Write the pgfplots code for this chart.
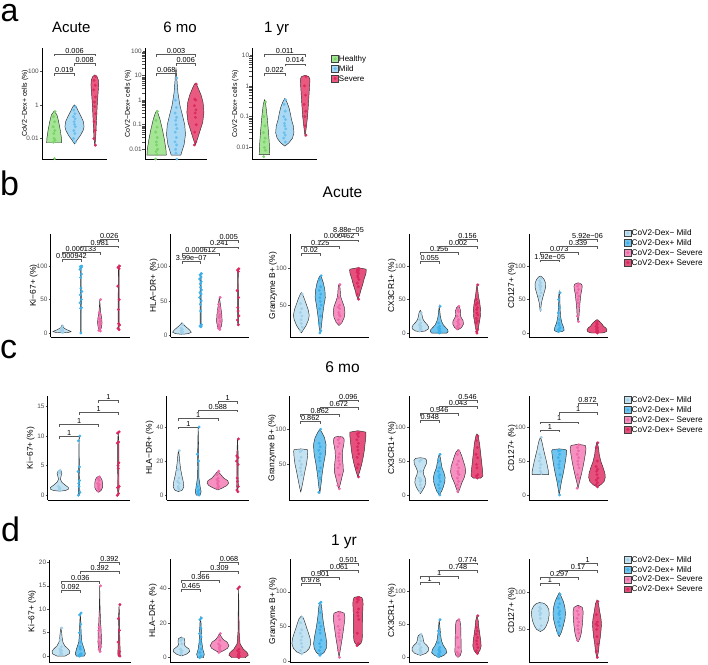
\documentclass[border=0pt]{standalone}
\usepackage{pgfplots}
\pgfplotsset{compat=1.18}
\usepackage{fontspec}
\setmainfont{Liberation Sans}

\definecolor{hF}{HTML}{A4E696}\definecolor{hD}{HTML}{7CD36A}
\definecolor{mF}{HTML}{A9D9F4}\definecolor{mD}{HTML}{6CC0EE}
\definecolor{sF}{HTML}{EA5A80}\definecolor{sD}{HTML}{DC2C5E}
\definecolor{cAF}{HTML}{C4E3F2}\definecolor{cAD}{HTML}{A2D0E8}
\definecolor{cBF}{HTML}{6FC5EF}\definecolor{cBD}{HTML}{3DB1EC}
\definecolor{cCF}{HTML}{F590C0}\definecolor{cCD}{HTML}{EF6AAA}
\definecolor{cDF}{HTML}{E6507C}\definecolor{cDD}{HTML}{DA2860}
\definecolor{tickgray}{HTML}{4D4D4D}

% violin outline from a profile y/halfwidth (bottom to top)
\newcommand\vio[3]{%
  \gdef\vR{}\gdef\vL{}\gdef\vF{}%
  \foreach \yy/\ww [count=\k] in {#3}{%
    \pgfmathsetmacro\xr{#1+\ww}\pgfmathsetmacro\xl{#1-\ww}%
    \ifnum\k=1 \xdef\vF{(\xr,\yy)}\fi
    \xdef\vR{\vR (\xr,\yy)}%
    \xdef\vL{(\xl,\yy) \vL}%
  }%
  \edef\vtmp{\noexpand\addplot[vstyle, fill=#2] coordinates {\vR\space\vL\space\vF};}%
  \vtmp
}
% points, with a small fixed horizontal jitter pattern
\newcommand\dts[3]{%
  \gdef\vD{}%
  \foreach \yy [count=\k] in {#3}{%
    \pgfmathsetmacro\jx{#1+{0,0.045,-0.035,0.02,-0.05,0.03,-0.015}[mod(\k,7)]}%
    \xdef\vD{\vD (\jx,\yy)}}%
  \edef\vtmp{\noexpand\addplot[dstyle, color=#2] coordinates {\vD};}%
  \vtmp
}
\newcommand\brk[4]{%
  \draw[brkstyle] ([yshift=-2.5pt]axis cs:#1,#3) -- (axis cs:#1,#3) -- node[plab]{#4} (axis cs:#2,#3) -- ([yshift=-2.5pt]axis cs:#2,#3);
}
\newcommand\lkey[2]{\addlegendimage{legend image code/.code={\draw[draw=gray!50!black,line width=0.4pt,fill=#1] (0pt,-3.4pt) rectangle (6.8pt,3.4pt); \fill[#2] (3.4pt,0pt) circle (1.4pt);}}}

\tikzset{
  brkstyle/.style={draw=gray!70!black, line width=0.5pt},
  plab/.style={above, inner sep=0.6pt, text=black, font=\fontsize{7.3}{7.3}\selectfont},
}
\pgfplotsset{
  vstyle/.style={draw=gray!35!black, line width=0.45pt, mark=none, forget plot},
  dstyle/.style={only marks, mark=*, mark size=1.25pt, mark options={draw=none}, forget plot},
  vpanel/.style={
    scale only axis, anchor=south west, clip=false,
    axis x line*=bottom, axis y line*=left,
    axis line style={black, line width=0.9pt},
    xtick=\empty,
    ytick style={tickgray, line width=0.5pt}, tick align=outside, major tick length=2pt,
    yticklabel style={font=\fontsize{6.4}{6.4}\selectfont, text=tickgray, inner sep=1pt},
    every axis y label/.style={at={([xshift=-17pt]axis description cs:0,0.5)}, rotate=90, anchor=center, font=\fontsize{8.4}{8.4}\selectfont},
    /pgf/number format/assume math mode=true,
  },
  leg/.style={legend cell align=left, legend style={draw=none, fill=none, inner sep=0pt, row sep=0pt,
      font=\fontsize{8.2}{8.2}\selectfont, nodes={inner sep=0.3pt, text height=0.72em, text depth=0.2em}}},
}

\begin{document}
\begin{tikzpicture}
\useasboundingbox (0,0) rectangle (708pt,-664pt);

% panel letters and titles
\node[anchor=base west, inner sep=0, font=\fontsize{32}{32}\selectfont] at (0.5pt,-21pt) {a};
\node[anchor=base west, inner sep=0, font=\fontsize{34}{34}\selectfont] at (0pt,-195pt) {b};
\node[anchor=base west, inner sep=0, font=\fontsize{34}{34}\selectfont] at (0pt,-358.3pt) {c};
\node[anchor=base west, inner sep=0, font=\fontsize{34}{34}\selectfont] at (1pt,-541.7pt) {d};
\node[anchor=base, font=\fontsize{15}{15}\selectfont] at (71.3pt,-32.3pt) {Acute};
\node[anchor=base, font=\fontsize{15}{15}\selectfont] at (180pt,-32.3pt) {6 mo};
\node[anchor=base, font=\fontsize{15}{15}\selectfont] at (276.7pt,-32.3pt) {1 yr};
\node[anchor=base, font=\fontsize{15.5}{15.5}\selectfont] at (342.5pt,-197pt) {Acute};
\node[anchor=base, font=\fontsize{15.5}{15.5}\selectfont] at (342.5pt,-372pt) {6 mo};
\node[anchor=base, font=\fontsize{15.5}{15.5}\selectfont] at (344pt,-545pt) {1 yr};

%%%%%%%%%%%%%%%% ROW A
\begin{axis}[vpanel, ymode=log, xmin=0.4, xmax=3.6, height=111pt, ylabel={CoV2−Dex+ cells (\%)}, ylabel style={font=\fontsize{7}{7}\selectfont},
  at={(42pt,-159pt)}, width=65pt, ymin=6e-4, ymax=2500, ytick={0.01,1,100}, yticklabels={0.01,1,100}]
\vio{1}{hF}{0.0056/0.37,0.01/0.36,0.0316/0.3,0.1/0.22,0.25/0.14,0.44/0}
\vio{2}{mF}{0.0047/0,0.0079/0.12,0.0158/0.3,0.0316/0.43,0.05/0.47,0.1/0.44,0.2/0.33,0.4/0.2,0.79/0.08,1.0/0}
\vio{3}{sF}{0.0035/0,0.01/0.04,0.1/0.08,1/0.12,5/0.16,16/0.19,32/0.17,50/0.1,62/0}
\dts{1}{hD}{0.4,0.2,0.1,0.05,0.03,0.02,0.01,0.008,0.006,0.00063}
\dts{2}{mD}{0.8,0.5,0.3,0.2,0.15,0.1,0.07,0.05,0.03,0.02,0.01,0.006}
\dts{3}{sD}{50,30,15,8,3,1.5,0.8,0.3,0.1,0.03,0.01,0.004}
\brk{1}{2}{74}{0.019}
\brk{2}{3}{309}{0.008}
\brk{1}{3}{1100}{0.006}
\end{axis}

\begin{axis}[vpanel, ymode=log, xmin=0.4, xmax=3.6, height=111pt, ylabel={CoV2−Dex+ cells (\%)}, ylabel style={font=\fontsize{7}{7}\selectfont},
  at={(145pt,-159.3pt)}, width=62pt, ymin=0.0039, ymax=130, ytick={0.01,0.1,1,10,100}, yticklabels={0.01,0.1,1,10,100}]
\vio{1}{hF}{0.0058/0.5,0.01/0.48,0.025/0.4,0.063/0.3,0.158/0.18,0.28/0.08,0.37/0}
\vio{2}{mF}{0.0058/0.25,0.0079/0.3,0.0158/0.42,0.04/0.49,0.1/0.45,0.25/0.33,0.63/0.2,2/0.1,6.3/0.05,15.8/0.02,19.5/0}
\vio{3}{sF}{0.015/0,0.025/0.1,0.05/0.22,0.126/0.38,0.316/0.44,0.79/0.4,1.58/0.3,2.8/0.17,4.2/0.07,5/0}
\dts{1}{hD}{0.35,0.15,0.08,0.05,0.03,0.02,0.015,0.01,0.008,0.006,0.004}
\dts{2}{mD}{8,1,0.5,0.3,0.2,0.15,0.1,0.07,0.05,0.03,0.02,0.015,0.01,0.007,0.004}
\dts{3}{sD}{4.5,1.1,1,0.6,0.4,0.3,0.2,0.1,0.05,0.02,0.015}
\brk{1}{2}{12.2}{0.068}
\brk{2}{3}{31}{0.006}
\brk{1}{3}{74}{0.003}
\end{axis}

\begin{axis}[vpanel, ymode=log, xmin=0.4, xmax=3.6, height=111pt, ylabel={CoV2−Dex+ cells (\%)}, ylabel style={font=\fontsize{7}{7}\selectfont}, leg,
  at={(252.3pt,-159.3pt)}, width=65pt, ymin=0.0041, ymax=16.6, ytick={0.01,0.1,1,10}, yticklabels={0.01,0.1,1,10},
  legend style={at={(1.215,0.95)}, anchor=north west, font=\fontsize{8}{8}\selectfont}]
\lkey{hF}{hD}\addlegendentry{Healthy}
\lkey{mF}{mD}\addlegendentry{Mild}
\lkey{sF}{sD}\addlegendentry{Severe}
\vio{1}{hF}{0.0058/0.26,0.01/0.25,0.03/0.2,0.1/0.13,0.25/0.06,0.35/0}
\vio{2}{mF}{0.011/0,0.014/0.2,0.02/0.38,0.03/0.45,0.05/0.42,0.08/0.33,0.13/0.27,0.2/0.2,0.3/0.1,0.39/0}
\vio{3}{sF}{0.022/0,0.04/0.05,0.1/0.12,0.3/0.17,1/0.22,1.6/0.24,2.0/0.18,2.2/0}
\dts{1}{hD}{0.3,0.1,0.05,0.03,0.02,0.015,0.01,0.008,0.005}
\dts{2}{mD}{0.35,0.25,0.15,0.1,0.08,0.06,0.05,0.04,0.03,0.025,0.02,0.015}
\dts{3}{sD}{2,1,0.5,0.25,0.15,0.1,0.05,0.025}
\brk{1}{2}{2.5}{0.022}
\brk{2}{3}{5.2}{0.014}
\brk{1}{3}{10.7}{0.011}
\end{axis}

%%%%%%%%%%%%%%%% ROW B (Acute)
\begin{axis}[vpanel, xmin=0.4, xmax=4.6, at={(50.7pt,-337.3pt)}, width=79.3pt, height=103.3pt, ymin=-6.4, ymax=147.8, ytick={0,50,100}, ylabel={Ki−67+ (\%)}]
\vio{1}{cAF}{0.3/0,1/0.35,2/0.48,3/0.42,5/0.25,7/0.12,9/0.05,12/0}
\vio{2}{cBF}{0/0,2/0.015,50/0.02,98/0.015,100/0}
\vio{3}{cCF}{3/0,8/0.08,15/0.12,22/0.1,30/0.05,40/0.02,50/0}
\vio{4}{cDF}{5/0,10/0.03,50/0.025,95/0.02,100/0}
\dts{1}{cAD}{10,7,5,4,3,2,1.5,1}
\dts{2}{cBD}{100,99,98,95,88,83,67,62,57,50,45,38,37,0}
\dts{3}{cCD}{50,30,28,22,20,17,15,13,10,7,4,3}
\dts{4}{cDD}{100,98,96,70,50,35,14,12,7,5}
\brk{1}{2}{110}{0.000942}
\brk{1}{3}{120}{0.000133}
\brk{2}{4}{130}{0.981}
\brk{3}{4}{140}{0.026}
\end{axis}

\begin{axis}[vpanel, xmin=0.4, xmax=4.6, at={(170.7pt,-337.3pt)}, width=78.6pt, height=103.3pt, ymin=-3.4, ymax=147.9, ytick={0,50,100}, ylabel={HLA−DR+ (\%)}]
\vio{1}{cAF}{1/0,2/0.35,4/0.5,7/0.42,10/0.3,13/0.17,16/0.06,18/0}
\vio{2}{cBF}{12/0,15/0.03,50/0.03,85/0.03,90/0}
\vio{3}{cCF}{8/0,12/0.1,20/0.15,30/0.13,40/0.08,50/0.03,55/0}
\vio{4}{cDF}{13/0,20/0.03,60/0.025,95/0.02,97/0}
\dts{1}{cAD}{15,10,8,6,5,4,3,2}
\dts{2}{cBD}{90,88,85,82,78,75,70,66,62,60,55,50,45,35,15,13,12}
\dts{3}{cCD}{55,45,40,35,30,27,25,20,15,12,10,8}
\dts{4}{cDD}{97,95,93,65,55,40,35,28,22,15}
\brk{1}{2}{108}{3.99e−07}
\brk{1}{3}{119}{0.000612}
\brk{2}{4}{129}{0.241}
\brk{3}{4}{139}{0.005}
\end{axis}

\begin{axis}[vpanel, xmin=0.4, xmax=4.6, at={(290pt,-337.3pt)}, width=79.3pt, height=103.3pt, ymin=6, ymax=147, ytick={50,100}, ylabel={Granzyme B+ (\%)}]
\vio{1}{cAF}{12/0,16/0.1,22/0.25,30/0.38,36/0.42,44/0.36,52/0.25,60/0.14,65/0.05,67/0}
\vio{2}{cBF}{12/0,20/0.06,35/0.12,50/0.2,60/0.27,70/0.25,80/0.17,87/0.08,90/0}
\vio{3}{cCF}{22/0,26/0.15,33/0.27,40/0.31,48/0.27,55/0.17,62/0.08,70/0.06,76/0.04,78/0}
\vio{4}{cDF}{58/0,63/0.08,70/0.15,78/0.25,86/0.33,93/0.42,97/0.44,99/0.43,101/0}
\dts{1}{cAD}{65,52,45,40,35,30,25,20,15}
\dts{2}{cBD}{90,85,75,70,65,60,55,50,45,35,25,15,12}
\dts{3}{cCD}{78,60,50,47,45,40,37,35,30,25}
\dts{4}{cDD}{100,98,97,95,93,90,88,85,80,75,65,58}
\brk{1}{2}{121}{0.02}
\brk{1}{3}{130}{0.125}
\brk{2}{4}{139}{0.000462}
\brk{3}{4}{148}{8.88e−05}
\end{axis}

\begin{axis}[vpanel, xmin=0.4, xmax=4.6, at={(409pt,-337.3pt)}, width=79.3pt, height=103.3pt, ymin=-6.4, ymax=148, ytick={0,50,100}, ylabel={CX3CR1+ (\%)}]
\vio{1}{cAF}{2/0,3/0.25,6/0.42,9/0.44,12/0.38,16/0.25,20/0.15,25/0.1,30/0.07,34/0}
\vio{2}{cBF}{0/0.4,2/0.47,5/0.45,8/0.35,12/0.22,18/0.12,25/0.06,33/0.03,40/0}
\vio{3}{cCF}{5/0,8/0.18,13/0.28,18/0.27,24/0.15,28/0.12,33/0.14,38/0.08,40/0}
\vio{4}{cDF}{0/0,5/0.06,15/0.12,25/0.18,35/0.19,45/0.15,55/0.08,65/0.04,72/0}
\dts{1}{cAD}{30,20,15,12,10,8,7,5,3}
\dts{2}{cBD}{40,15,10,8,6,5,3,2,1,0}
\dts{3}{cCD}{40,35,32,25,20,17,15,13,10,8,6}
\dts{4}{cDD}{72,50,45,42,38,35,30,27,22,18,15,5,2,0}
\brk{1}{2}{107.5}{0.055}
\brk{1}{3}{120}{0.156}
\brk{2}{4}{129}{0.002}
\brk{3}{4}{140}{0.156}
\end{axis}

\begin{axis}[vpanel, xmin=0.4, xmax=4.6, leg, at={(529pt,-337.3pt)}, width=79.3pt, height=103.3pt, ymin=-6.4, ymax=147.8, ytick={0,50,100}, ylabel={CD127+ (\%)},
  legend style={at={(1.198,1.058)}, anchor=north west}]
\lkey{cAF}{cAD}\addlegendentry{CoV2-Dex− Mild}
\lkey{cBF}{cBD}\addlegendentry{CoV2-Dex+ Mild}
\lkey{cCF}{cCD}\addlegendentry{CoV2-Dex− Severe}
\lkey{cDF}{cDD}\addlegendentry{CoV2-Dex+ Severe}
\vio{1}{cAF}{32/0,38/0.03,45/0.06,52/0.12,60/0.2,68/0.28,75/0.27,80/0.2,84/0.08,85/0}
\vio{2}{cBF}{2/0.15,4/0.26,8/0.24,15/0.14,25/0.07,35/0.05,45/0.04,55/0.03,62/0}
\vio{3}{cCF}{16/0,22/0.04,30/0.06,40/0.08,50/0.12,58/0.15,65/0.2,70/0.22,73/0.18,75/0}
\vio{4}{cDF}{0/0.3,2/0.5,5/0.53,8/0.45,10/0.35,12/0.3,15/0.22,18/0.1,20/0}
\dts{1}{cAD}{82,78,75,72,70,68,65,60,55,35}
\dts{2}{cBD}{60,50,38,30,20,15,12,8,5,3,2}
\dts{3}{cCD}{73,70,65,60,55,50,45,40,25,17}
\dts{4}{cDD}{18,15,13,10,8,6,5,3,2,0}
\brk{1}{2}{109}{1.92e−05}
\brk{1}{3}{120}{0.073}
\brk{2}{4}{129}{0.339}
\brk{3}{4}{140}{5.92e−06}
\end{axis}

%%%%%%%%%%%%%%%% ROW C (6 mo)
\begin{axis}[vpanel, xmin=0.4, xmax=4.6, at={(47.7pt,-500pt)}, width=82.3pt, height=104pt, ymin=-0.8, ymax=16.75, ytick={0,5,10,15}, ylabel={Ki−67+ (\%)}]
\vio{1}{cAF}{0.7/0,0.8/0.3,1.0/0.45,1.3/0.46,1.7/0.3,2.2/0.12,2.7/0.05,3.2/0.08,3.7/0.12,4.0/0.1,4.2/0}
\vio{2}{cBF}{0/0,0.5/0.04,2/0.03,5/0.015,10/0}
\vio{3}{cCF}{0.5/0,0.8/0.12,1.3/0.2,2/0.2,2.6/0.17,3.0/0.1,3.2/0}
\vio{4}{cDF}{0/0,1/0.04,5/0.035,9/0.03,10.7/0}
\dts{1}{cAD}{4.2,4.0,3.8,1.5,1.2,1.0,0.9,0.8}
\dts{2}{cBD}{10,9.2,4.8,4.0,2.5,2.0,1.5,0.5,0}
\dts{3}{cCD}{3.1,2.8,2.5,2.0,1.8,1.5,1.2,1.0,0.7}
\dts{4}{cDD}{10.7,10.5,9,8.8,5.5,5,4.5,1.5,1.3,0.3,0}
\brk{1}{2}{10}{1}
\brk{1}{3}{12}{1}
\brk{2}{4}{14}{1}
\brk{3}{4}{16}{1}
\end{axis}

\begin{axis}[vpanel, xmin=0.4, xmax=4.6, at={(166.7pt,-500pt)}, width=82.6pt, height=104pt, ymin=-2.9, ymax=58.2, ytick={0,20,40}, ylabel={HLA−DR+ (\%)}]
\vio{1}{cAF}{2/0,3/0.2,5/0.27,8/0.24,12/0.16,16/0.1,20/0.06,24/0.03,26/0}
\vio{2}{cBF}{0/0.1,2/0.15,5/0.1,10/0.04,20/0.03,30/0.02,40/0}
\vio{3}{cCF}{3/0,4/0.2,5.5/0.45,7/0.55,8.5/0.5,10/0.3,12/0.15,14/0}
\vio{4}{cDF}{2/0,5/0.04,15/0.035,25/0.03,33/0}
\dts{1}{cAD}{26,15,10,8,7,5,4,3}
\dts{2}{cBD}{40,24,20,5,3,2,1,0}
\dts{3}{cCD}{14,12,10,9,8,7,6,5,4}
\dts{4}{cDD}{33,23,22,20,18,10,8,5,3,2}
\brk{1}{2}{40}{1}
\brk{1}{3}{45}{1}
\brk{2}{4}{50}{0.588}
\brk{3}{4}{55}{1}
\end{axis}

\begin{axis}[vpanel, xmin=0.4, xmax=4.6, at={(289.3pt,-500pt)}, width=80pt, height=104pt, ymin=-1, ymax=147.6, ytick={50,100}, ylabel={Granzyme B+ (\%)}]
\vio{1}{cAF}{10/0,20/0.08,30/0.15,40/0.22,50/0.3,60/0.35,68/0.37,71/0.35,72/0}
\vio{2}{cBF}{8/0,20/0.06,35/0.12,50/0.2,65/0.3,78/0.33,88/0.25,96/0.1,100/0}
\vio{3}{cCF}{15/0,20/0.06,30/0.15,40/0.24,50/0.22,60/0.18,70/0.2,80/0.27,86/0.28,89/0.2,90/0}
\vio{4}{cDF}{32/0,40/0.1,50/0.2,60/0.28,70/0.34,80/0.38,90/0.42,96/0.42,98/0}
\dts{1}{cAD}{70,68,60,55,50,45,40,35}
\dts{2}{cBD}{100,80,75,70,65,60,55,45,40,30,10}
\dts{3}{cCD}{88,85,80,75,65,60,55,50,45,35,20,15}
\dts{4}{cDD}{95,93,90,85,80,75,70,65,60,50,45,32}
\brk{1}{2}{111}{0.862}
\brk{1}{3}{121}{0.862}
\brk{2}{4}{131.5}{0.672}
\brk{3}{4}{142}{0.096}
\end{axis}

\begin{axis}[vpanel, xmin=0.4, xmax=4.6, at={(409pt,-500pt)}, width=79.3pt, height=104pt, ymin=-7.4, ymax=146, ytick={0,50,100}, ylabel={CX3CR1+ (\%)}]
\vio{1}{cAF}{2/0,6/0.1,12/0.22,18/0.29,24/0.27,30/0.18,35/0.15,40/0.22,46/0.32,51/0.34,54/0.25,55/0}
\vio{2}{cBF}{0/0,5/0.12,12/0.22,20/0.3,26/0.31,33/0.25,40/0.15,48/0.1,55/0.06,60/0}
\vio{3}{cCF}{3/0,10/0.1,18/0.2,26/0.33,34/0.4,42/0.37,50/0.28,57/0.2,63/0.12,67/0}
\vio{4}{cDF}{25/0.2,28/0.31,35/0.3,45/0.26,55/0.22,65/0.18,75/0.14,83/0.09,88/0.05,90/0}
\dts{1}{cAD}{52,50,35,25,22,20,15,10,5}
\dts{2}{cBD}{60,50,40,35,30,28,25,20,15,10,5,0}
\dts{3}{cCD}{65,60,50,45,40,35,32,30,25,20,15,10,5}
\dts{4}{cDD}{87,80,70,60,55,45,40,30,28,25}
\brk{1}{2}{110.6}{0.948}
\brk{1}{3}{120.5}{0.546}
\brk{2}{4}{130.3}{0.043}
\brk{3}{4}{140}{0.546}
\end{axis}

\begin{axis}[vpanel, xmin=0.4, xmax=4.6, leg, at={(529pt,-500pt)}, width=79.3pt, height=104pt, ymin=-7.4, ymax=146, ytick={0,50,100}, ylabel={CD127+ (\%)},
  legend style={at={(1.198,1.01)}, anchor=north west}]
\lkey{cAF}{cAD}\addlegendentry{CoV2-Dex− Mild}
\lkey{cBF}{cBD}\addlegendentry{CoV2-Dex+ Mild}
\lkey{cCF}{cCD}\addlegendentry{CoV2-Dex− Severe}
\lkey{cDF}{cDD}\addlegendentry{CoV2-Dex+ Severe}
\vio{1}{cAF}{30/0.44,35/0.43,42/0.38,50/0.32,58/0.25,66/0.18,74/0.12,80/0.07,85/0}
\vio{2}{cBF}{0/0,10/0.06,20/0.12,30/0.2,40/0.27,50/0.33,60/0.38,65/0.4,67/0.35,68/0}
\vio{3}{cCF}{10/0,20/0.08,30/0.17,40/0.25,50/0.32,60/0.38,68/0.42,73/0.38,75/0}
\vio{4}{cDF}{12/0,15/0.2,20/0.38,26/0.44,32/0.42,40/0.33,50/0.2,60/0.12,70/0.08,78/0}
\dts{1}{cAD}{85,60,55,50,45,40,35,32}
\dts{2}{cBD}{66,65,60,55,50,45,40,30,20,0}
\dts{3}{cCD}{74,70,65,60,55,50,45,40,30,25,10}
\dts{4}{cDD}{77,70,50,42,38,35,30,25,22,18,15,12}
\brk{1}{2}{96}{1}
\brk{1}{3}{108}{1}
\brk{2}{4}{121.5}{1}
\brk{3}{4}{135}{0.872}
\end{axis}

%%%%%%%%%%%%%%%% ROW D (1 yr)
\begin{axis}[vpanel, xmin=0.4, xmax=4.6, at={(49.3pt,-662.7pt)}, width=81.4pt, height=102.7pt, ymin=-1.4, ymax=20.5, ytick={0,5,10,15,20}, ylabel={Ki−67+ (\%)}]
\vio{1}{cAF}{0/0.2,0.5/0.43,1/0.46,1.5/0.38,2.2/0.2,3/0.1,4/0.06,5/0.04,6/0}
\vio{2}{cBF}{0/0.2,0.5/0.26,1.5/0.2,3/0.08,5/0.04,7/0.03,9.2/0}
\vio{3}{cCF}{0.8/0,1.5/0.06,3/0.09,5/0.08,7/0.05,10/0.02,15/0}
\vio{4}{cDF}{0/0.05,1/0.06,3/0.04,6/0.03,9/0.02,11/0}
\dts{1}{cAD}{6,3.5,2,1.5,1.2,1,0.8,0.5,0.3}
\dts{2}{cBD}{9.2,8.8,6.8,5,3,2,1.5,0.5,0.3,0.1,0}
\dts{3}{cCD}{15,6.2,6,5.5,4,3,2.5,2,1.5,1}
\dts{4}{cDD}{11,8,5.5,3,1,0.5,0.2,0}
\brk{1}{2}{14}{0.092}
\brk{1}{3}{16}{0.036}
\brk{2}{4}{18}{0.392}
\brk{3}{4}{20}{0.392}
\end{axis}

\begin{axis}[vpanel, xmin=0.4, xmax=4.6, at={(170pt,-662.2pt)}, width=80pt, height=102.9pt, ymin=-2.6, ymax=57, ytick={0,20,40}, ylabel={HLA−DR+ (\%)}]
\vio{1}{cAF}{1/0,2/0.25,3.5/0.43,5/0.4,6.5/0.22,7.5/0.15,9/0.18,11/0.16,12/0}
\vio{2}{cBF}{0/0.15,2/0.2,5/0.12,10/0.06,15/0.05,20/0.03,23/0}
\vio{3}{cCF}{3/0,4/0.2,5.5/0.42,7/0.49,9/0.4,10.5/0.2,12/0.1,14/0}
\vio{4}{cDF}{0/0.35,1.5/0.51,3/0.45,5/0.25,8/0.08,15/0.03,30/0.015,41/0}
\dts{1}{cAD}{11,10,8,5,4,3,2}
\dts{2}{cBD}{23,22,17,14,12,10,8,5,3,1,0}
\dts{3}{cCD}{14,12,10,8,7,6,5,4,3}
\dts{4}{cDD}{41,40,5,4,3,2,1.5,1,0.5,0}
\brk{1}{2}{39.8}{0.465}
\brk{1}{3}{45}{0.366}
\brk{2}{4}{50}{0.309}
\brk{3}{4}{55.3}{0.068}
\end{axis}

\begin{axis}[vpanel, xmin=0.4, xmax=4.6, at={(290pt,-662.2pt)}, width=79.3pt, height=102.9pt, ymin=-2, ymax=147, ytick={0,50,100}, ylabel={Granzyme B+ (\%)}]
\vio{1}{cAF}{10/0,13/0.25,18/0.42,25/0.5,32/0.47,40/0.38,48/0.28,55/0.2,61/0.12,65/0}
\vio{2}{cBF}{8/0,12/0.2,18/0.32,25/0.35,35/0.3,45/0.23,55/0.17,65/0.12,75/0.09,82/0.05,85/0}
\vio{3}{cCF}{5/0,15/0.06,25/0.12,35/0.18,45/0.23,55/0.28,63/0.31,69/0.27,72/0}
\vio{4}{cDF}{22/0,25/0.15,30/0.22,40/0.24,55/0.24,70/0.25,82/0.27,88/0.26,92/0.2,93/0}
\dts{1}{cAD}{63,55,45,40,35,30,25,20,15,10}
\dts{2}{cBD}{85,83,70,55,50,45,40,30,25,20,15,10,8}
\dts{3}{cCD}{70,65,60,50,45,40,35,30,15,5}
\dts{4}{cDD}{92,90,88,85,75,70,65,60,40,25,22}
\brk{1}{2}{112}{0.978}
\brk{1}{3}{121}{0.501}
\brk{2}{4}{131}{0.061}
\brk{3}{4}{141}{0.501}
\end{axis}

\begin{axis}[vpanel, xmin=0.4, xmax=4.6, at={(409pt,-662.2pt)}, width=79.3pt, height=102.9pt, ymin=-7.4, ymax=148.5, ytick={0,50,100}, ylabel={CX3CR1+ (\%)}]
\vio{1}{cAF}{3/0,6/0.3,10/0.43,14/0.44,18/0.35,22/0.2,26/0.16,30/0.14,33/0.1,35/0}
\vio{2}{cBF}{0/0,3/0.25,7/0.4,12/0.36,18/0.22,25/0.12,35/0.07,45/0.04,57/0}
\vio{3}{cCF}{0/0,3/0.12,8/0.17,20/0.16,35/0.15,48/0.14,55/0.1,57/0}
\vio{4}{cDF}{5/0,10/0.15,17/0.22,25/0.2,35/0.15,45/0.1,55/0.07,63/0}
\dts{1}{cAD}{35,30,25,20,15,12,10,8,5}
\dts{2}{cBD}{57,40,35,22,15,12,10,8,5,3,1}
\dts{3}{cCD}{57,30,15,8,5,2}
\dts{4}{cDD}{63,45,40,35,30,25,20,15,10,6}
\brk{1}{2}{113}{1}
\brk{1}{3}{123}{1}
\brk{2}{4}{132}{0.748}
\brk{3}{4}{143}{0.774}
\end{axis}

\begin{axis}[vpanel, xmin=0.4, xmax=4.6, leg, at={(529pt,-662.2pt)}, width=79.3pt, height=102.9pt, ymin=5.2, ymax=145.5, ytick={50,100}, ylabel={CD127+ (\%)},
  legend style={at={(1.198,1.045)}, anchor=north west}]
\lkey{cAF}{cAD}\addlegendentry{CoV2-Dex− Mild}
\lkey{cBF}{cBD}\addlegendentry{CoV2-Dex+ Mild}
\lkey{cCF}{cCD}\addlegendentry{CoV2-Dex− Severe}
\lkey{cDF}{cDD}\addlegendentry{CoV2-Dex+ Severe}
\vio{1}{cAF}{47/0,50/0.2,55/0.32,62/0.42,70/0.47,77/0.45,82/0.35,85/0.22,87/0}
\vio{2}{cBF}{40/0,45/0.1,55/0.22,65/0.31,72/0.33,80/0.3,88/0.22,95/0.1,100/0}
\vio{3}{cCF}{33/0,38/0.1,45/0.17,55/0.22,65/0.25,74/0.27,80/0.22,83/0}
\vio{4}{cDF}{10/0,20/0.08,30/0.12,40/0.18,50/0.22,58/0.24,65/0.21,75/0.14,85/0.08,90/0}
\dts{1}{cAD}{85,80,78,75,72,70,65,55,50}
\dts{2}{cBD}{98,92,85,80,75,72,70,65,60,55,45}
\dts{3}{cCD}{80,75,70,65,60,55,50,45,35}
\dts{4}{cDD}{88,70,60,57,55,50,40,30,20,12}
\brk{1}{2}{113}{1}
\brk{1}{3}{121}{0.297}
\brk{2}{4}{130}{0.17}
\brk{3}{4}{140}{1}
\end{axis}
\end{tikzpicture}
\end{document}
